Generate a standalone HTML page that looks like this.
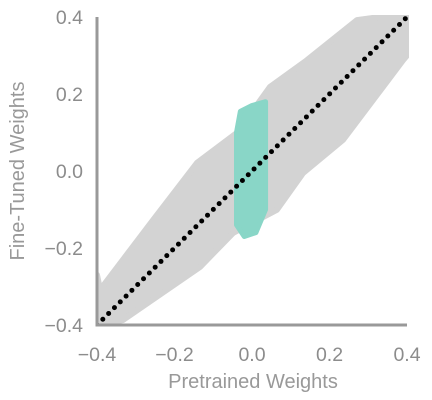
<!DOCTYPE html>
<html><head><meta charset="utf-8"><style>
html,body{margin:0;padding:0;background:#fff;}
svg{display:block;font-family:"Liberation Sans",sans-serif;}
</style></head><body>
<svg width="432" height="400" viewBox="0 0 432 400">
<g id="plot"></g>
<g id="axes"></g>
</svg>
<script>
// Gray cloud envelope (data units)
const upperX = [-0.40, -0.392, -0.255, -0.142, -0.039, 0.046, 0.142, 0.271, 0.33, 0.40];
const upperY = [-0.27, -0.309, -0.127, 0.021, 0.099, 0.218, 0.288, 0.392, 0.40, 0.40];
const lowerX = [-0.40, -0.333, -0.134, -0.049, 0.064, 0.132, 0.235, 0.39, 0.40];
const lowerY = [-0.40, -0.387, -0.249, -0.161, -0.101, -0.005, 0.081, 0.288, 0.30];
// Teal cluster envelope
const tealX = [-0.040, -0.040, -0.030, 0.000, 0.035, 0.035, 0.010, -0.020, -0.040];
const tealY = [-0.14, 0.10, 0.155, 0.17, 0.18, -0.10, -0.16, -0.17, -0.14];
const ticks = [-0.4, -0.2, 0.0, 0.2, 0.4];
const tickLabels = ["\u22120.4", "\u22120.2", "0.0", "0.2", "0.4"];

const NS = "http://www.w3.org/2000/svg";
const X0 = 97, X1 = 407, Y0 = 325, Y1 = 17;
const sx = v => X0 + (v + 0.4) / 0.8 * (X1 - X0);
const sy = v => Y0 - (v + 0.4) / 0.8 * (Y0 - Y1);
const plot = document.getElementById('plot');
const axes = document.getElementById('axes');
function mk(tag, attrs, parent) {
  const e = document.createElementNS(NS, tag);
  for (const k in attrs) e.setAttribute(k, attrs[k]);
  parent.appendChild(e);
  return e;
}
const defs = mk('defs', {}, plot);
const cp = mk('clipPath', {id: 'clip'}, defs);
mk('rect', {x: X0, y: Y1 - 2, width: X1 - X0 + 2, height: Y0 - Y1 + 2}, cp);
const g = mk('g', {'clip-path': 'url(#clip)'}, plot);

let pts = [];
for (let i = 0; i < upperX.length; i++) pts.push(sx(upperX[i]) + ',' + sy(upperY[i]));
for (let i = lowerX.length - 1; i >= 0; i--) pts.push(sx(lowerX[i]) + ',' + sy(lowerY[i]));
const cloud = mk('polygon', {points: pts.join(' '), fill: '#d3d3d3', stroke: '#d3d3d3', 'stroke-width': 6, 'stroke-linejoin': 'round'}, g);



let tp = [];
for (let i = 0; i < tealX.length; i++) tp.push(sx(tealX[i]) + ',' + sy(tealY[i]));
const teal = mk('polygon', {points: tp.join(' '), fill: '#89d6c7', stroke: '#89d6c7', 'stroke-width': 5, 'stroke-linejoin': 'round'}, g);



const diag = mk('line', {x1: sx(-0.4), y1: sy(-0.4), x2: sx(0.4), y2: sy(0.4), stroke: '#000', 'stroke-width': 5, 'stroke-linecap': 'round', 'stroke-dasharray': '0 8.2'}, g);



const ls = mk('line', {x1: X0, y1: Y1, x2: X0, y2: Y0 + 1.5, stroke: '#999', 'stroke-width': 3}, axes);


const bs = mk('line', {x1: X0 - 1.5, y1: Y0, x2: X1, y2: Y0, stroke: '#999', 'stroke-width': 3}, axes);



for (let i = 0; i < ticks.length; i++) {
  const tx = mk('text', {x: sx(ticks[i]), y: 361, 'text-anchor': 'middle', fill: '#8c8c8c', 'font-size': 19.5}, axes);
  tx.textContent = tickLabels[i];
  
  
  const ty = mk('text', {x: 83, y: sy(ticks[i]) + 7, 'text-anchor': 'end', fill: '#8c8c8c', 'font-size': 19.5}, axes);
  ty.textContent = tickLabels[i];
  
  
}
const xt = mk('text', {x: 253, y: 388, 'text-anchor': 'middle', fill: '#999', 'font-size': 20}, axes);
xt.textContent = 'Pretrained Weights';


const yt = mk('text', {x: 0, y: 0, 'text-anchor': 'middle', fill: '#999', 'font-size': 20, transform: 'translate(24,171) rotate(-90)'}, axes);
yt.textContent = 'Fine-Tuned Weights';


</script>
</body></html>
